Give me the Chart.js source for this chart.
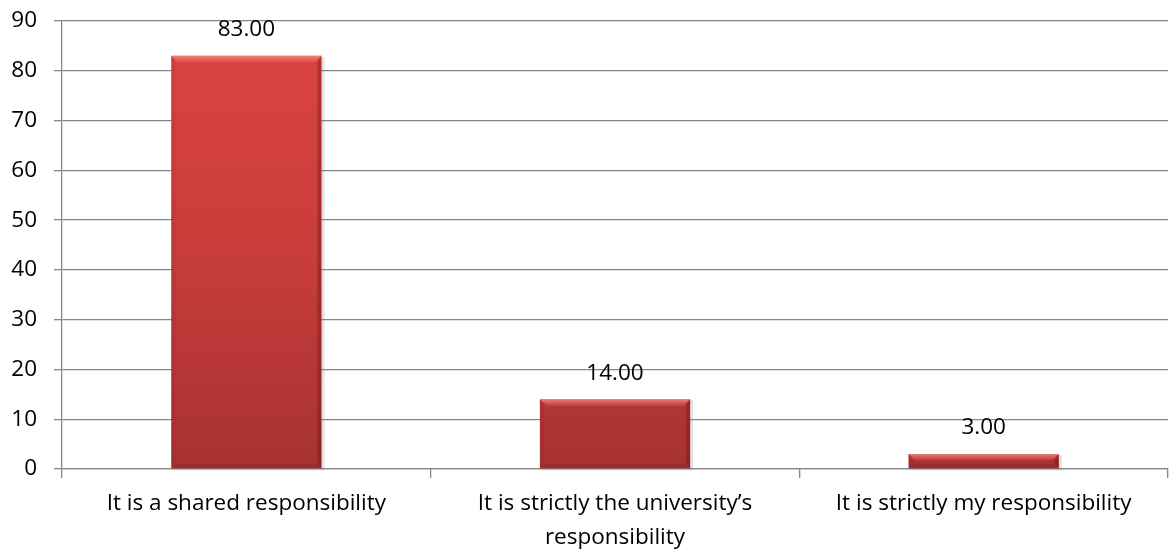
<!DOCTYPE html>
<html>
<head>
<meta charset="utf-8">
<script src="https://cdn.jsdelivr.net/npm/chart.js@4/dist/chart.umd.min.js"></script>
<style>
  html, body { margin: 0; padding: 0; background: #ffffff; }
  #wrap { width: 1170px; height: 549px; position: relative; }
</style>
</head>
<body>
<div id="wrap"><canvas id="c" width="1170" height="549"></canvas></div>
<script>
// Survey answers and their percentages
const categories = [
  'It is a shared responsibility',
  ['It is strictly the university\u2019s', 'responsibility'],
  'It is strictly my responsibility'
];
const values = [83.00, 14.00, 3.00];
const yTicks = [0, 10, 20, 30, 40, 50, 60, 70, 80, 90];

const FONT = '"Open Sans", "Liberation Sans", sans-serif';
const FONT_SIZE = 22.5;

// Vertical red gradient for each bar
function barFill(ctx) {
  const chart = ctx.chart;
  const area = chart.chartArea;
  if (!area) return '#d04040';
  const el = ctx.element;
  const top = el && el.y !== undefined ? el.y : area.top;
  const bottom = el && el.base !== undefined ? el.base : area.bottom;
  const g = chart.ctx.createLinearGradient(0, top, 0, Math.max(bottom, top + 1));
  g.addColorStop(0, '#dc4542');
  g.addColorStop(0.5, '#c93d3b');
  g.addColorStop(1, '#a73232');
  return g;
}

// Soft drop shadow and bevelled edges on the bars
const bevelPlugin = {
  id: 'bevel',
  beforeDatasetsDraw(chart) {
    const ctx = chart.ctx;
    ctx.save();
    chart.getDatasetMeta(0).data.forEach(bar => {
      const l = bar.x - bar.width / 2;
      ctx.fillStyle = 'rgba(120,120,120,0.22)';
      ctx.fillRect(l + 1, bar.y + 1, bar.width + 2, bar.base - bar.y + 1);
    });
    ctx.restore();
  },
  afterDatasetsDraw(chart) {
    const ctx = chart.ctx;
    ctx.save();
    chart.getDatasetMeta(0).data.forEach(bar => {
      const l = bar.x - bar.width / 2, r = bar.x + bar.width / 2;
      const t = bar.y, b = bar.base;
      const h = b - t;
      const e = Math.min(7, h / 2.2);
      const s = Math.min(4, h / 2.2);
      // top highlight
      const g = ctx.createLinearGradient(0, t, 0, t + e);
      g.addColorStop(0, 'rgba(255,150,140,0.75)');
      g.addColorStop(1, 'rgba(255,120,110,0.15)');
      ctx.fillStyle = g;
      ctx.beginPath();
      ctx.moveTo(l, t); ctx.lineTo(r, t); ctx.lineTo(r - e, t + e); ctx.lineTo(l + e, t + e);
      ctx.closePath(); ctx.fill();
      // left edge
      ctx.fillStyle = 'rgba(120,30,30,0.12)';
      ctx.beginPath();
      ctx.moveTo(l, t); ctx.lineTo(l + s, t + e); ctx.lineTo(l + s, b - s); ctx.lineTo(l, b);
      ctx.closePath(); ctx.fill();
      // right edge
      ctx.fillStyle = 'rgba(100,15,15,0.35)';
      ctx.beginPath();
      ctx.moveTo(r, t); ctx.lineTo(r - s, t + e); ctx.lineTo(r - s, b - s); ctx.lineTo(r, b);
      ctx.closePath(); ctx.fill();
      // bottom edge
      ctx.fillStyle = 'rgba(100,15,15,0.18)';
      ctx.beginPath();
      ctx.moveTo(l, b); ctx.lineTo(l + s, b - s); ctx.lineTo(r - s, b - s); ctx.lineTo(r, b);
      ctx.closePath(); ctx.fill();
    });
    ctx.restore();
  }
};

// Value labels above each bar
const valueLabels = {
  id: 'valueLabels',
  afterDatasetsDraw(chart) {
    const ctx = chart.ctx;
    ctx.save();
    ctx.font = FONT_SIZE + 'px ' + FONT;
    ctx.fillStyle = '#000000';
    ctx.textAlign = 'center';
    ctx.textBaseline = 'middle';
    const ds = chart.data.datasets[0];
    chart.getDatasetMeta(0).data.forEach((bar, i) => {
      ctx.fillText(ds.data[i].toFixed(2), bar.x, bar.y - 26);
    });
    ctx.restore();
  }
};

new Chart(document.getElementById('c'), {
  type: 'bar',
  data: {
    labels: categories,
    datasets: [{
      data: values,
      backgroundColor: barFill,
      borderWidth: 0,
      barPercentage: 0.815,
      categoryPercentage: 0.5
    }]
  },
  options: {
    responsive: false,
    animation: false,
    layout: { padding: { top: 21, right: 2, left: 0, bottom: 0 } },
    plugins: { legend: { display: false }, tooltip: { enabled: false } },
    scales: {
      y: {
        min: 0, max: 90,
        afterBuildTicks(scale) { scale.ticks = yTicks.map(v => ({ value: v })); },
        afterFit(scale) { scale.width = 62; scale.paddingTop = 0; scale.paddingBottom = 0; },
        grid: { color: '#868686', lineWidth: 1.3, tickLength: 8, drawTicks: true },
        border: { color: '#868686', width: 1.3 },
        ticks: { color: '#000000', font: { size: FONT_SIZE, family: FONT }, padding: 17 }
      },
      x: {
        afterFit(scale) { scale.height = 80; },
        grid: { offset: true, drawOnChartArea: false, color: '#868686', tickLength: 9, lineWidth: 1.3 },
        border: { color: '#868686', width: 1.3 },
        ticks: { color: '#000000', font: { size: FONT_SIZE, family: FONT, lineHeight: 1.5 }, padding: 9, maxRotation: 0, autoSkip: false }
      }
    }
  },
  plugins: [bevelPlugin, valueLabels]
});
</script>
</body>
</html>
